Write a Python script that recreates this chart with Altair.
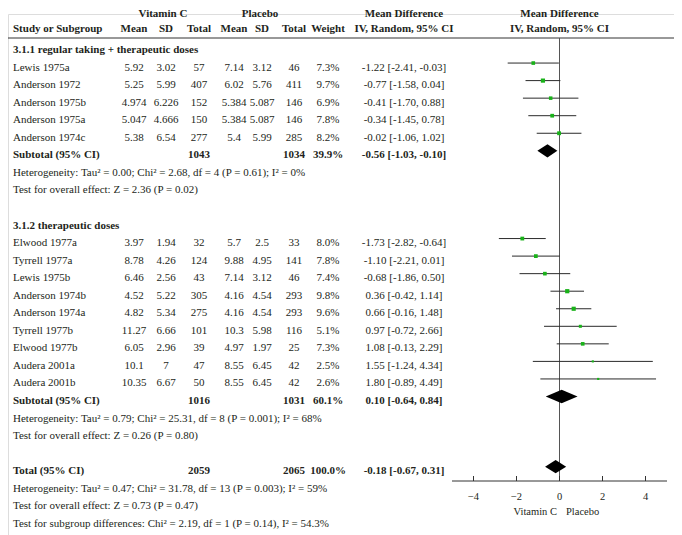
import altair as alt
import pandas as pd

# ---------------- data ----------------
g1_header = "3.1.1 regular taking + therapeutic doses"
g1_names = ["Lewis 1975a", "Anderson 1972", "Anderson 1975b", "Anderson 1975a", "Anderson 1974c"]
g1_vc_mean = ["5.92", "5.25", "4.974", "5.047", "5.38"]
g1_vc_sd = ["3.02", "5.99", "6.226", "4.666", "6.54"]
g1_vc_n = [57, 407, 152, 150, 277]
g1_pl_mean = ["7.14", "6.02", "5.384", "5.384", "5.4"]
g1_pl_sd = ["3.12", "5.76", "5.087", "5.087", "5.99"]
g1_pl_n = [46, 411, 146, 146, 285]
g1_weight = [7.3, 9.7, 6.9, 7.8, 8.2]
g1_md = [-1.22, -0.77, -0.41, -0.34, -0.02]
g1_lo = [-2.41, -1.58, -1.70, -1.45, -1.06]
g1_hi = [-0.03, 0.04, 0.88, 0.78, 1.02]

g2_header = "3.1.2 therapeutic doses"
g2_names = ["Elwood 1977a", "Tyrrell 1977a", "Lewis 1975b", "Anderson 1974b", "Anderson 1974a",
            "Tyrrell 1977b", "Elwood 1977b", "Audera 2001a", "Audera 2001b"]
g2_vc_mean = ["3.97", "8.78", "6.46", "4.52", "4.82", "11.27", "6.05", "10.1", "10.35"]
g2_vc_sd = ["1.94", "4.26", "2.56", "5.22", "5.34", "6.66", "2.96", "7", "6.67"]
g2_vc_n = [32, 124, 43, 305, 275, 101, 39, 47, 50]
g2_pl_mean = ["5.7", "9.88", "7.14", "4.16", "4.16", "10.3", "4.97", "8.55", "8.55"]
g2_pl_sd = ["2.5", "4.95", "3.12", "4.54", "4.54", "5.98", "1.97", "6.45", "6.45"]
g2_pl_n = [33, 141, 46, 293, 293, 116, 25, 42, 42]
g2_weight = [8.0, 7.8, 7.4, 9.8, 9.6, 5.1, 7.3, 2.5, 2.6]
g2_md = [-1.73, -1.10, -0.68, 0.36, 0.66, 0.97, 1.08, 1.55, 1.80]
g2_lo = [-2.82, -2.21, -1.86, -0.42, -0.16, -0.72, -0.13, -1.24, -0.89]
g2_hi = [-0.64, 0.01, 0.50, 1.14, 1.48, 2.66, 2.29, 4.34, 4.49]

pooled_labels = ["Subtotal (95% CI)", "Subtotal (95% CI)", "Total (95% CI)"]
pooled_vc_n = [1043, 1016, 2059]
pooled_pl_n = [1034, 1031, 2065]
pooled_weight = [39.9, 60.1, 100.0]
pooled_md = [-0.56, 0.10, -0.18]
pooled_lo = [-1.03, -0.64, -0.67]
pooled_hi = [-0.10, 0.84, 0.31]

g1_notes = ["Heterogeneity: Tau² = 0.00; Chi² = 2.68, df = 4 (P = 0.61); I² = 0%",
            "Test for overall effect: Z = 2.36 (P = 0.02)"]
g2_notes = ["Heterogeneity: Tau² = 0.79; Chi² = 25.31, df = 8 (P = 0.001); I² = 68%",
            "Test for overall effect: Z = 0.26 (P = 0.80)"]
total_notes = ["Heterogeneity: Tau² = 0.47; Chi² = 31.78, df = 13 (P = 0.003); I² = 59%",
               "Test for overall effect: Z = 0.73 (P = 0.47)",
               "Test for subgroup differences: Chi² = 2.19, df = 1 (P = 0.14), I² = 54.3%"]

tick_values = [-4, -2, 0, 2, 4]
tick_labels = ["\u22124", "\u22122", "0", "2", "4"]
favours = ["Vitamin C", "Placebo"]

# ---------------- layout / style ----------------
FONT = "Liberation Serif"
FS = 11
TXT = "#231f20"
TOP = 6           # top padding; all y values below are relative to the view
W, H = 666, 521
COLS = {
    "name": (5, "left"),
    "vc_mean": (126, "center"),
    "vc_sd": (158, "center"),
    "vc_n": (191, "center"),
    "pl_mean": (226, "center"),
    "pl_sd": (254, "center"),
    "pl_n": (286, "center"),
    "weight": (320, "center"),
    "md": (396, "center"),
}
PLOT_X0 = 551.5
Y_SCALE = alt.Scale(domain=[0, 27], range=[36, 509.85], nice=False, zero=False)
X_SCALE = alt.Scale(domain=[-5, 5], range=[444, 659], nice=False, zero=False)
MARK_DY = -4.5
DIAMOND_H = 0.38
HDR1_Y, HDR2_Y, LINE_Y, AXIS_Y = -0.5, 15, 24, 467

# ---------------- build tables ----------------
cells = []
studies = []
diamonds = []


def add(row, col, text, bold=False):
    cells.append({"row": row, "col": col, "text": str(text), "bold": bold})


def fmt_md(m, lo, hi):
    return f"{m:.2f} [{lo:.2f}, {hi:.2f}]"


def add_pooled(r, k):
    add(r, "name", pooled_labels[k], True)
    add(r, "vc_n", pooled_vc_n[k], True)
    add(r, "pl_n", pooled_pl_n[k], True)
    add(r, "weight", f"{pooled_weight[k]:.1f}%", True)
    add(r, "md", fmt_md(pooled_md[k], pooled_lo[k], pooled_hi[k]), True)
    for x, h in [(pooled_lo[k], 0), (pooled_md[k], DIAMOND_H), (pooled_hi[k], 0)]:
        diamonds.append({"id": k, "x": x, "y1": r - h, "y2": r + h})


def add_group(start, header, names, vm, vs, vn, pm, ps, pn, w, md, lo, hi, pidx, notes):
    add(start, "name", header, True)
    r = start + 1
    for i in range(len(names)):
        add(r, "name", names[i])
        add(r, "vc_mean", vm[i])
        add(r, "vc_sd", vs[i])
        add(r, "vc_n", vn[i])
        add(r, "pl_mean", pm[i])
        add(r, "pl_sd", ps[i])
        add(r, "pl_n", pn[i])
        add(r, "weight", f"{w[i]:.1f}%")
        add(r, "md", fmt_md(md[i], lo[i], hi[i]))
        studies.append({"row": r, "md": md[i], "lo": lo[i], "hi": hi[i], "w": w[i]})
        r += 1
    add_pooled(r, pidx)
    r += 1
    for n in notes:
        add(r, "name", n)
        r += 1
    return r


r = add_group(0, g1_header, g1_names, g1_vc_mean, g1_vc_sd, g1_vc_n, g1_pl_mean, g1_pl_sd,
              g1_pl_n, g1_weight, g1_md, g1_lo, g1_hi, 0, g1_notes)
r = add_group(r + 1, g2_header, g2_names, g2_vc_mean, g2_vc_sd, g2_vc_n, g2_pl_mean, g2_pl_sd,
              g2_pl_n, g2_weight, g2_md, g2_lo, g2_hi, 1, g2_notes)
r += 1
add_pooled(r, 2)
r += 1
for n in total_notes:
    add(r, "name", n)
    r += 1

cells = pd.DataFrame(cells)
studies = pd.DataFrame(studies)
diamonds = pd.DataFrame(diamonds)

layers = []

# table text
for key, (px, align) in COLS.items():
    for bold in [False, True]:
        sub = cells[(cells["col"] == key) & (cells["bold"] == bold)]
        if len(sub) == 0:
            continue
        layers.append(
            alt.Chart(sub).mark_text(align=align, baseline="middle", font=FONT, fontSize=FS,
                                     fontWeight="bold" if bold else "normal", color=TXT)
            .encode(x=alt.value(px), y=alt.Y("row:Q", scale=Y_SCALE, axis=None), text="text:N")
        )

# headers
headers = [
    ("Vitamin C", 155, HDR1_Y, "center"), ("Placebo", 252, HDR1_Y, "center"),
    ("Mean Difference", 396, HDR1_Y, "center"), ("Mean Difference", PLOT_X0, HDR1_Y, "center"),
    ("Study or Subgroup", 5, HDR2_Y, "left"), ("Mean", 126, HDR2_Y, "center"),
    ("SD", 158, HDR2_Y, "center"), ("Total", 191, HDR2_Y, "center"),
    ("Mean", 226, HDR2_Y, "center"), ("SD", 254, HDR2_Y, "center"),
    ("Total", 286, HDR2_Y, "center"), ("Weight", 320, HDR2_Y, "center"),
    ("IV, Random, 95% CI", 396, HDR2_Y, "center"), ("IV, Random, 95% CI", PLOT_X0, HDR2_Y, "center"),
]
for label, px, py, align in headers:
    layers.append(
        alt.Chart(pd.DataFrame({"t": [label]})).mark_text(
            align=align, baseline="middle", font=FONT, fontSize=FS, fontWeight="bold", color=TXT)
        .encode(x=alt.value(px), y=alt.value(py), text="t:N")
    )

# header line
layers.append(
    alt.Chart(pd.DataFrame({"a": [0]})).mark_rule(color="#333333", strokeWidth=1)
    .encode(x=alt.value(0), x2=alt.value(668), y=alt.value(LINE_Y))
)

# zero line
layers.append(
    alt.Chart(pd.DataFrame({"v": [0]})).mark_rule(color="#555555", strokeWidth=1)
    .encode(x=alt.X("v:Q", scale=X_SCALE, axis=None), y=alt.value(LINE_Y), y2=alt.value(AXIS_Y))
)

# CI lines
layers.append(
    alt.Chart(studies).mark_rule(color="#2a2a2a", strokeWidth=1, yOffset=MARK_DY)
    .encode(x=alt.X("lo:Q", scale=X_SCALE, axis=None), x2="hi:Q",
            y=alt.Y("row:Q", scale=Y_SCALE, axis=None))
)
# squares
layers.append(
    alt.Chart(studies).mark_square(color="#19b219", opacity=1, yOffset=MARK_DY)
    .encode(x=alt.X("md:Q", scale=X_SCALE, axis=None),
            y=alt.Y("row:Q", scale=Y_SCALE, axis=None),
            size=alt.Size("w:Q", scale=alt.Scale(domain=[0, 10], range=[0, 18]), legend=None))
)
# diamonds
layers.append(
    alt.Chart(diamonds).mark_area(color="black", yOffset=MARK_DY, y2Offset=MARK_DY)
    .encode(x=alt.X("x:Q", scale=X_SCALE, axis=None),
            y=alt.Y("y1:Q", scale=Y_SCALE, axis=None), y2="y2:Q", detail="id:N")
)

# axis
layers.append(
    alt.Chart(pd.DataFrame({"a": [0]})).mark_rule(color="#333333", strokeWidth=1)
    .encode(x=alt.value(444), x2=alt.value(659), y=alt.value(AXIS_Y))
)
ticks = pd.DataFrame({"t": tick_values, "lab": tick_labels})
layers.append(
    alt.Chart(ticks).mark_rule(color="#333333", strokeWidth=1)
    .encode(x=alt.X("t:Q", scale=X_SCALE, axis=None), y=alt.value(AXIS_Y - 5), y2=alt.value(AXIS_Y))
)
layers.append(
    alt.Chart(ticks).mark_text(font=FONT, fontSize=10.5, color=TXT, baseline="middle")
    .encode(x=alt.X("t:Q", scale=X_SCALE, axis=None), y=alt.value(AXIS_Y + 16), text="lab:N")
)
fav = pd.DataFrame({"t": favours})
layers.append(
    alt.Chart(fav[fav["t"] == favours[0]]).mark_text(font=FONT, fontSize=10.5, color=TXT,
                                                     align="right", baseline="middle")
    .encode(x=alt.value(549), y=alt.value(AXIS_Y + 31), text="t:N")
)
layers.append(
    alt.Chart(fav[fav["t"] == favours[1]]).mark_text(font=FONT, fontSize=10.5, color=TXT,
                                                     align="left", baseline="middle")
    .encode(x=alt.value(558), y=alt.value(AXIS_Y + 31), text="t:N")
)

chart = alt.layer(*layers).properties(
    width=W, height=H, autosize=alt.AutoSizeParams(type="none"),
    padding={"left": 0, "top": TOP, "right": 0, "bottom": 0}
).configure_view(stroke=None).configure(background="white")

chart.save("out.html", embed_options={"renderer": "svg", "actions": False})
